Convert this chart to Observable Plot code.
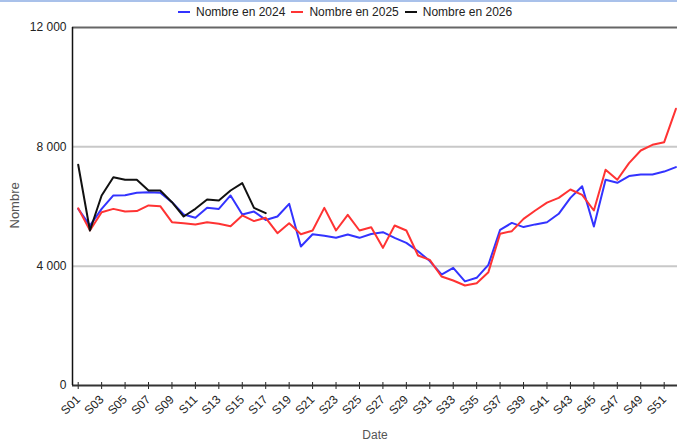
<!DOCTYPE html>
<html>
<head>
<meta charset="utf-8">
<script src="https://cdn.jsdelivr.net/npm/d3@7"></script>
<script src="https://cdn.jsdelivr.net/npm/@observablehq/plot@0.6"></script>
<style>
  html, body { margin: 0; padding: 0; background: #fff; overflow: hidden; }
  #wrap { position: relative; width: 677px; height: 445px; font-family: "Liberation Sans", Arial, sans-serif; }
  #strip { position: absolute; left: 0; top: 0; width: 677px; height: 2px; background: #a9c1ea; }
  #legend { position: absolute; left: 178px; top: 5px; display: flex; align-items: center; font-size: 12px; color: #222; white-space: nowrap; }
  #legend .item { display: flex; align-items: center; margin-right: 6px; }
  #legend .sw { width: 12px; height: 2px; margin-right: 6px; }
  #chart { position: absolute; left: 0; top: 0; }
</style>
</head>
<body>
<div id="wrap">
  <div id="chart"></div>
  <div id="strip"></div>
  <div id="legend"></div>
</div>
<script>
const weeks = Array.from({length: 52}, (_, i) => "S" + String(i + 1).padStart(2, "0"));
const tickWeeks = weeks.filter((_, i) => i % 2 === 0);
const series = ["Nombre en 2024", "Nombre en 2025", "Nombre en 2026"];
const colors = ["#3333ff", "#ff3333", "#111111"];
const yTicks = [0, 4000, 8000, 12000];

const v2024 = [5920, 5360, 5920, 6370, 6380, 6460, 6480, 6460, 6145, 5730,
               5620, 5955, 5920, 6370, 5730, 5830, 5550, 5665, 6090, 4660,
               5070, 5020, 4950, 5060, 4950, 5080, 5140, 4950, 4780, 4500,
               4170, 3720, 3945, 3490, 3610, 4045, 5220, 5450, 5310, 5400,
               5470, 5755, 6290, 6680, 5330, 6895, 6795, 7020, 7070, 7075,
               7170, 7320];
const v2025 = [5940, 5200, 5810, 5920, 5830, 5845, 6035, 6010, 5475, 5440,
               5400, 5475, 5420, 5340, 5700, 5510, 5620, 5105, 5440, 5070,
               5196, 5955, 5196, 5720, 5196, 5307, 4614, 5363, 5196, 4357,
               4212, 3654, 3520, 3352, 3430, 3799, 5084, 5173, 5587, 5866,
               6130, 6291, 6570, 6391, 5866, 7230, 6895, 7453, 7877, 8068,
               8156, 9275];
const v2026 = [7400, 5196, 6370, 6983, 6894, 6894, 6536, 6536, 6145, 5665,
               5922, 6235, 6201, 6536, 6782, 5955, 5776];

const values = [v2024, v2025, v2026];
const data = values.flatMap((arr, s) => arr.map((v, i) => ({week: weeks[i], value: v, series: series[s]})));

const fmt = d => d3.format(",")(d).replace(/,/g, " ");

const chart = Plot.plot({
  width: 677,
  height: 445,
  marginLeft: 72,
  marginRight: 0,
  marginTop: 27,
  marginBottom: 60,
  style: {fontFamily: "'Liberation Sans', Arial, sans-serif", background: "transparent"},
  x: {type: "point", domain: weeks, range: [77.7, 675.4], padding: 0},
  y: {domain: [0, 12000]},
  color: {domain: series, range: colors},
  marks: [
    Plot.gridY([4000, 8000], {stroke: "#c8c8c8", strokeOpacity: 1, strokeWidth: 2}),
    Plot.ruleY([12000], {stroke: "#666", strokeWidth: 2}),
    Plot.axisY({ticks: yTicks, tickSize: 0, tickPadding: 6, tickFormat: fmt, label: null, fontSize: 12, fill: "#222"}),
    Plot.axisX({ticks: tickWeeks, tickSize: 7, dy: -3, tickPadding: 8, tickRotate: -45, label: null, fontSize: 12, fill: "#222", stroke: "#222"}),
    Plot.line(data, {x: "week", y: "value", z: "series", stroke: "series", strokeWidth: 2}),
    Plot.ruleY([0], {stroke: "#333", strokeWidth: 2}),
    Plot.ruleX([weeks[0]], {dx: -5.7, stroke: "#111", strokeWidth: 1.5}),
    Plot.text(["Date"], {frameAnchor: "bottom", dy: 53, fontSize: 12, fill: "#555"}),
    Plot.text(["Nombre"], {frameAnchor: "left", dx: -58, dy: 22, rotate: -90, fontSize: 13, fill: "#555"})
  ]
});
document.getElementById("chart").appendChild(chart);

const legend = document.getElementById("legend");
series.forEach((s, i) => {
  const it = document.createElement("div");
  it.className = "item";
  const sw = document.createElement("div");
  sw.className = "sw";
  sw.style.background = colors[i];
  const t = document.createElement("span");
  t.textContent = s;
  it.appendChild(sw);
  it.appendChild(t);
  legend.appendChild(it);
});
</script>
</body>
</html>
